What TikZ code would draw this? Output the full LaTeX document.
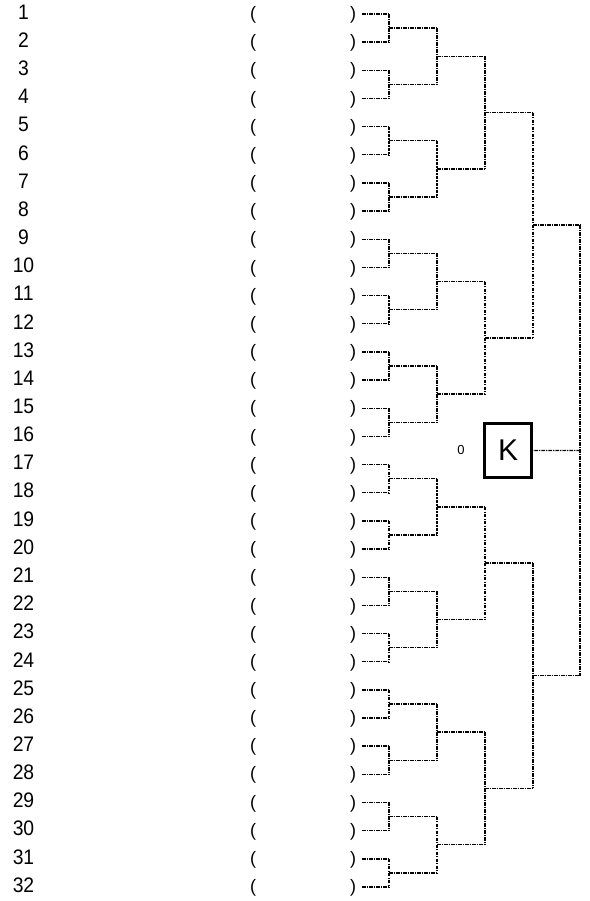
\documentclass[tikz,border=0pt]{standalone}
\usepackage{fontspec}
\setmainfont{Liberation Sans}
\begin{document}
\begin{tikzpicture}[x=1pt,y=-1pt,
  hl/.style={line width=1.4pt, dash pattern=on 3.6pt off 1.1pt on 1.2pt off 1.1pt},
  vl/.style={line width=2pt, dash pattern=on 3.6pt off 1.1pt on 1.2pt off 1.1pt},
  num/.style={font=\fontsize{21}{21}\selectfont, inner sep=0pt, xscale=0.92},
  paren/.style={font=\fontsize{18}{18}\selectfont, inner sep=0pt},
  kbox/.style={draw, line width=2.7pt, minimum width=47.3pt, minimum height=54.3pt, inner sep=0pt, font=\fontsize{30}{30}\selectfont},
  small/.style={font=\fontsize{13}{13}\selectfont, inner sep=0pt}]
\useasboundingbox (0,0) rectangle (589,901);
\foreach \i in {1,...,32}{
  \pgfmathsetmacro\y{14+(\i-1)*28.16}
  \node[num] (n\i) at (23.5,\y-2) {\i};
  \node[paren] (op\i) at (253,\y+1) {(};
  \node[paren] (cp\i) at (353,\y+1) {)};
  \coordinate (Q-0-\i) at (362,\y);
}
\foreach \k in {1,...,5}{
  \pgfmathtruncatemacro\km{\k-1}
  \pgfmathtruncatemacro\nc{32/2^\km}
  \pgfmathtruncatemacro\n{32/2^\k}
  \pgfmathsetmacro\xk{{362,389,437,485,533,580}[\k]}
  \foreach \c in {1,...,\nc}{
    \pgfmathsetmacro\yc{14+((2*\c-1)*2^(\km-1)-0.5)*28.16}
    \coordinate (P-\km-\c) at (\xk,\yc);
    \draw[hl] (Q-\km-\c) -- (P-\km-\c);
  }
  \foreach \j in {1,...,\n}{
    \pgfmathsetmacro\yj{14+((2*\j-1)*2^(\k-1)-0.5)*28.16}
    \pgfmathtruncatemacro\ca{2*\j-1}
    \pgfmathtruncatemacro\cb{2*\j}
    \coordinate (Q-\k-\j) at (\xk,\yj);
    \draw[vl] (P-\km-\ca) -- (P-\km-\cb);
  }
}
\node[kbox] (K) at (508,450.5) {K};
\node[small] (zero) at (461,450) {0};
\draw[hl] (Q-5-1) -- (K.east);
\end{tikzpicture}
\end{document}
